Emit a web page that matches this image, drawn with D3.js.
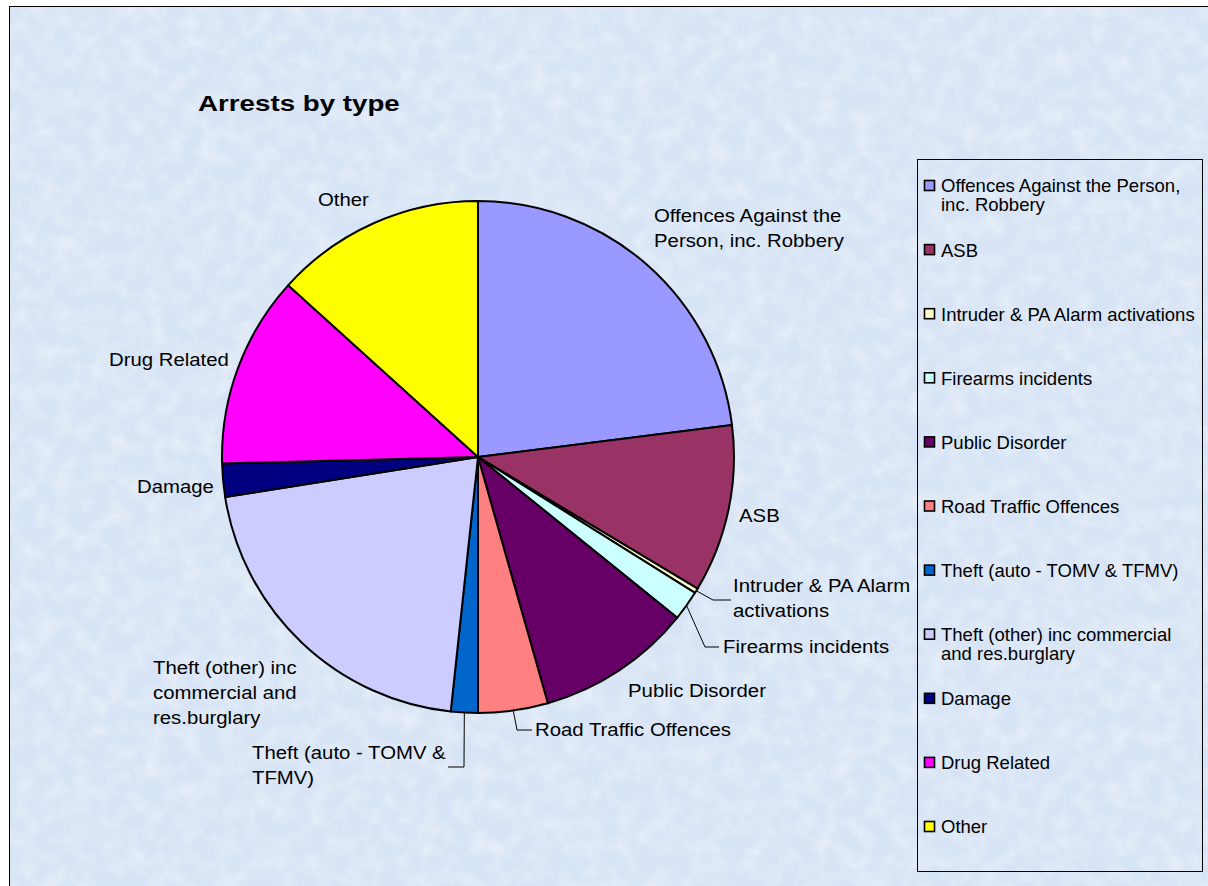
<!DOCTYPE html>
<html>
<head>
<meta charset="utf-8">
<script src="https://cdn.jsdelivr.net/npm/d3@7"></script>
<style>
  html, body { margin: 0; padding: 0; background: #fff; }
  svg { display: block; font-family: "Liberation Sans", Arial, sans-serif; }
</style>
</head>
<body>
<svg id="chart" width="1208" height="886"></svg>
<script>
// ---------- data ----------
const categories = [
  "Offences Against the Person, inc. Robbery",
  "ASB",
  "Intruder & PA Alarm activations",
  "Firearms incidents",
  "Public Disorder",
  "Road Traffic Offences",
  "Theft (auto - TOMV & TFMV)",
  "Theft (other) inc commercial and res.burglary",
  "Damage",
  "Drug Related",
  "Other"
];
const values = [23.0, 10.6, 0.3, 1.9, 9.8, 4.4, 1.7, 20.8, 2.1, 12.1, 13.3];
const colors = ["#9999FF", "#993366", "#FFFFCC", "#CCFFFF", "#660066", "#FF8080",
                "#0066CC", "#CCCCFF", "#000080", "#FF00FF", "#FFFF00"];
const legendLines = [
  ["Offences Against the Person,", "inc. Robbery"],
  ["ASB"],
  ["Intruder & PA Alarm activations"],
  ["Firearms incidents"],
  ["Public Disorder"],
  ["Road Traffic Offences"],
  ["Theft (auto - TOMV & TFMV)"],
  ["Theft (other) inc commercial", "and res.burglary"],
  ["Damage"],
  ["Drug Related"],
  ["Other"]
];
const pieLabelLines = [
  ["Offences Against the", "Person, inc. Robbery"],
  ["ASB"],
  ["Intruder & PA Alarm", "activations"],
  ["Firearms incidents"],
  ["Public Disorder"],
  ["Road Traffic Offences"],
  ["Theft (auto - TOMV &", "TFMV)"],
  ["Theft (other) inc", "commercial and", "res.burglary"],
  ["Damage"],
  ["Drug Related"],
  ["Other"]
];
const title = "Arrests by type";

// ---------- layout ----------
const W = 1208, H = 886;
const cx = 478, cy = 457, R = 256;
const labelFont = 18.5, labelScale = 1.1, lineH = 25;
const legendFont = 18.5, legendLineH = 19;
// label anchor (left x, first-line centre y) relative to pie centre, plus leader elbow
const labelLayout = [
  {dx: 176, dy: -241},
  {dx: 261, dy: 59},
  {dx: 255, dy: 129, elbow: [235, 143], end: [253, 143]},
  {dx: 245, dy: 190, elbow: [227, 190], end: [241, 190]},
  {dx: 150, dy: 234},
  {dx: 57, dy: 273, elbow: [39, 273], end: [54, 273]},
  {dx: -226, dy: 296, elbow: [-14, 310], end: [-30, 310]},
  {dx: -325, dy: 211},
  {dx: -341, dy: 30},
  {dx: -369, dy: -97},
  {dx: -160, dy: -257}
];

const svg = d3.select("#chart");

// background texture
const defs = svg.append("defs");
const filt = defs.append("filter").attr("id", "mottle")
  .attr("x", 0).attr("y", 0).attr("width", "100%").attr("height", "100%");
filt.append("feTurbulence").attr("type", "fractalNoise")
  .attr("baseFrequency", "0.055").attr("numOctaves", 4).attr("seed", 7).attr("result", "n");
filt.append("feColorMatrix").attr("in", "n").attr("type", "matrix")
  .attr("values", "0 0 0 0 1  0 0 0 0 1  0 0 0 0 1  1.5 0 0 0 -0.55");

svg.append("rect").attr("width", W).attr("height", H).attr("fill", "#ffffff");
svg.append("rect").attr("x", 9).attr("y", 6).attr("width", W).attr("height", H)
  .attr("fill", "#D7E4F5");
svg.append("rect").attr("x", 9).attr("y", 6).attr("width", W).attr("height", H)
  .attr("filter", "url(#mottle)").attr("opacity", 0.5);
svg.append("rect").attr("x", 9.5).attr("y", 6.5).attr("width", W + 10).attr("height", H + 10)
  .attr("fill", "none").attr("stroke", "#000").attr("stroke-width", 1);

// title
svg.append("text").attr("transform", "translate(198,111) scale(1.26,1)")
  .attr("font-size", 22).attr("font-weight", "bold").attr("fill", "#000")
  .text(title);

// pie
const data = categories.map((c, i) => ({c, v: values[i], i}));
const pie = d3.pie().sort(null).value(d => d.v);
const arcs = pie(data);
const arc = d3.arc().innerRadius(0).outerRadius(R);
const g = svg.append("g").attr("transform", `translate(${cx},${cy})`);
g.selectAll("path.slice").data(arcs).join("path")
  .attr("class", "slice")
  .attr("d", arc)
  .attr("fill", d => colors[d.data.i])
  .attr("stroke", "#000").attr("stroke-width", 2).attr("stroke-linejoin", "round");

// labels
arcs.forEach((a, i) => {
  const L = labelLayout[i];
  const t = g.append("text")
    .attr("transform", `translate(${L.dx},${L.dy}) scale(${labelScale},1)`)
    .attr("font-size", labelFont).attr("fill", "#000");
  pieLabelLines[i].forEach((ln, k) => {
    t.append("tspan").attr("x", 0).attr("y", k * lineH)
      .attr("dy", "0.35em").text(ln);
  });
  if (L.elbow) {
    const mid = (a.startAngle + a.endAngle) / 2;
    const p0 = [Math.sin(mid) * R, -Math.cos(mid) * R];
    g.append("path")
      .attr("d", d3.line()([p0, L.elbow, L.end]))
      .attr("fill", "none").attr("stroke", "#000").attr("stroke-width", 1);
  }
});

// legend
const lx = 917, ly = 159, lw = 285, lh = 712;
svg.append("rect").attr("x", lx + 0.5).attr("y", ly + 0.5).attr("width", lw).attr("height", lh)
  .attr("fill", "none").attr("stroke", "#000").attr("stroke-width", 1);
const legY = d3.scalePoint().domain(d3.range(categories.length)).range([186, 827]);
const lg = svg.append("g");
categories.forEach((c, i) => {
  const y = legY(i);
  lg.append("rect").attr("x", 924.5).attr("y", y - 5.5).attr("width", 10).attr("height", 10)
    .attr("fill", colors[i]).attr("stroke", "#000").attr("stroke-width", 1.6);
  const t = lg.append("text").attr("font-size", legendFont).attr("fill", "#000");
  legendLines[i].forEach((ln, k) => {
    t.append("tspan").attr("x", 941).attr("y", y + k * legendLineH).attr("dy", "0.35em").text(ln);
  });
});
</script>
</body>
</html>
